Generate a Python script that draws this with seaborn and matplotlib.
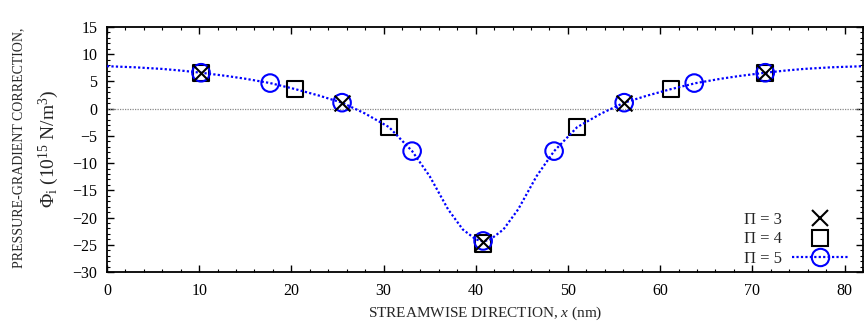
import numpy as np
import pandas as pd
import matplotlib
matplotlib.use("Agg")
import matplotlib.pyplot as plt
from matplotlib.lines import Line2D
from matplotlib.ticker import MultipleLocator
import seaborn as sns

# ---- data ----
curve_x = [0, 3, 6, 8, 10.2, 13, 15, 17.7, 20.4, 23, 25.5, 28, 30.6, 33.1, 35, 37, 38.6, 40, 40.8,
           41.6, 43, 44.6, 46.6, 48.5, 51, 53.6, 56.1, 58.6, 61.2, 63.9, 66.6, 68.6, 71.4, 73.6, 75.6, 78.6, 82]
curve_y = [7.8, 7.6, 7.3, 7.0, 6.6, 6.0, 5.5, 4.7, 3.6, 2.4, 1.1, -0.9, -3.4, -7.8, -12.4, -18.5, -22.2, -24.0, -24.4,
           -24.0, -22.2, -18.5, -12.4, -7.8, -3.4, -0.9, 1.1, 2.4, 3.6, 4.7, 5.5, 6.0, 6.6, 7.0, 7.3, 7.6, 7.8]

pi3_x = [10.2, 25.5, 40.8, 56.1, 71.4]
pi3_y = [6.6, 1.1, -24.5, 1.1, 6.6]

pi4_x = [10.2, 20.4, 30.6, 40.8, 51.0, 61.2, 71.4]
pi4_y = [6.6, 3.6, -3.4, -24.8, -3.4, 3.6, 6.6]

pi5_x = [10.2, 17.7, 25.5, 33.1, 40.8, 48.5, 56.1, 63.7, 71.4]
pi5_y = [6.6, 4.7, 1.1, -7.8, -24.3, -7.8, 1.1, 4.7, 6.6]

legend_labels = ["\u03a0 = 3", "\u03a0 = 4", "\u03a0 = 5"]

# ---- style ----
sns.set_theme(style="ticks")
plt.rcParams["font.family"] = ["Liberation Serif", "DejaVu Serif"]
plt.rcParams["mathtext.fontset"] = "custom"
plt.rcParams["mathtext.rm"] = "Liberation Serif"
plt.rcParams["mathtext.it"] = "Liberation Serif:italic"
plt.rcParams["xtick.direction"] = "in"
plt.rcParams["ytick.direction"] = "in"

fig = plt.figure(figsize=(8.64, 3.23), dpi=100)
ax = fig.add_axes([0.1238, 0.158, 0.875, 0.7584])

blue = "#0000ff"

ax.axhline(0, color="#888888", linestyle=(0, (1, 1)), linewidth=0.9, zorder=1)

df4 = pd.DataFrame({"x": pi4_x, "y": pi4_y})
sns.scatterplot(data=df4, x="x", y="y", marker="s", s=140, facecolors="none",
                edgecolor="black", linewidth=1.5, ax=ax, zorder=3, legend=False)

dfc = pd.DataFrame({"x": curve_x, "y": curve_y})
sns.lineplot(data=dfc, x="x", y="y", color=blue, linestyle=(0, (1, 1)), linewidth=1.6,
             ax=ax, zorder=4, legend=False)

df5 = pd.DataFrame({"x": pi5_x, "y": pi5_y})
sns.scatterplot(data=df5, x="x", y="y", marker="o", s=160, facecolors="none",
                edgecolor=blue, linewidth=1.5, ax=ax, zorder=5, legend=False)

df3 = pd.DataFrame({"x": pi3_x, "y": pi3_y})
sns.scatterplot(data=df3, x="x", y="y", marker="x", s=130, color="black",
                linewidth=1.5, ax=ax, zorder=6, legend=False)

ax.set_xlim(0, 82)
ax.set_ylim(-30, 15)
ax.xaxis.set_major_locator(MultipleLocator(10))
ax.xaxis.set_minor_locator(MultipleLocator(2))
ax.yaxis.set_major_locator(MultipleLocator(5))
ax.yaxis.set_minor_locator(MultipleLocator(1))
ax.tick_params(which="both", top=True, right=True, direction="in", labelsize=11.5, colors="black")
ax.tick_params(which="major", length=5, width=1)
ax.tick_params(which="minor", length=2.5, width=0.8)
ax.tick_params(axis="x", pad=8)
ax.tick_params(axis="y", pad=7)
for sp in ax.spines.values():
    sp.set_linewidth(1.3)
    sp.set_color("black")

ax.set_xlabel("STREAMWISE DIRECTION, $x$ (nm)", fontsize=11, labelpad=4)
ax.set_ylabel("")
fig.text(19 / 864, 1 - 147.5 / 323, "PRESSURE-GRADIENT CORRECTION,",
         rotation=90, ha="center", va="center", fontsize=10)
fig.text(49 / 864, 1 - 148.5 / 323, "\u03a6$_{\\mathrm{i}}$ (10$^{15}$ N/m$^{3}$)",
         rotation=90, ha="center", va="center", fontsize=14)

handles = [
    Line2D([], [], linestyle="none", marker="x", color="black", markersize=11.5, markeredgewidth=1.5),
    Line2D([], [], linestyle="none", marker="s", markerfacecolor="none", markeredgecolor="black",
           markersize=12, markeredgewidth=1.5),
    Line2D([], [], linestyle=(0, (1, 1)), color=blue, linewidth=1.6, marker="o", markerfacecolor="none",
           markeredgecolor=blue, markersize=12.5, markeredgewidth=1.5),
]
leg = ax.legend(handles, legend_labels, loc="lower right", bbox_to_anchor=(0.998, -0.033),
                frameon=False, markerfirst=False, fontsize=12, handlelength=3.35,
                labelspacing=0.2, handletextpad=0.6, borderpad=0.3)

fig.savefig("out.png", dpi=100)
